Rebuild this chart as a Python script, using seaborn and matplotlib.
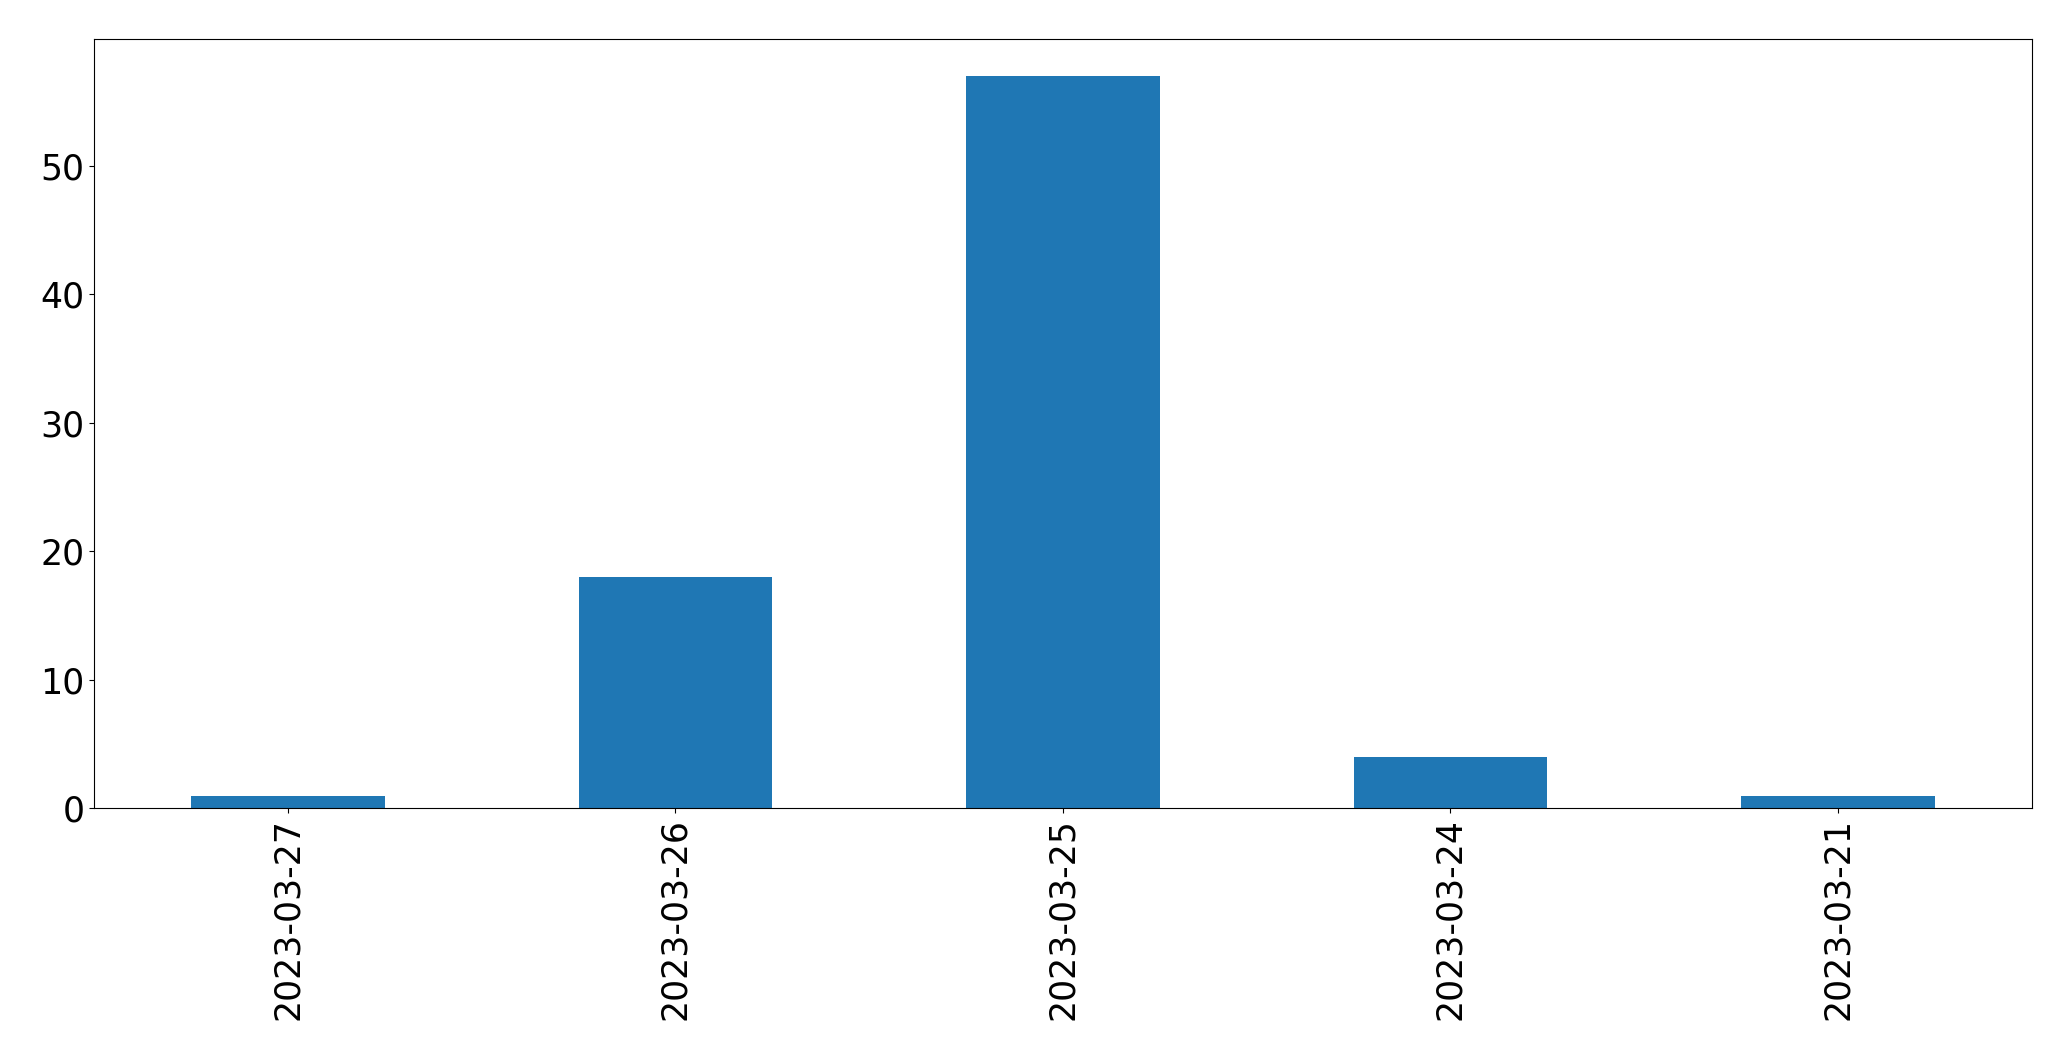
import pandas as pd
import matplotlib
matplotlib.use("Agg")
import matplotlib.pyplot as plt
import seaborn as sns

# counts per day
dates = ["2023-03-27", "2023-03-26", "2023-03-25", "2023-03-24", "2023-03-21"]
counts = [1, 18, 57, 4, 1]

df = pd.DataFrame({"date": dates, "count": counts})

fig, ax = plt.subplots(figsize=(20.71, 10.61), dpi=100)
sns.barplot(data=df, x="date", y="count", color="#1f77b4", saturation=1,
            width=0.5, order=dates, ax=ax)

ax.set_xlabel("")
ax.set_ylabel("")
ax.tick_params(axis="both", labelsize=25)
ax.tick_params(axis="x", labelrotation=90)
ax.set_ylim(0, 59.85)

fig.subplots_adjust(left=0.0455, right=0.981, top=0.963, bottom=0.238)
fig.savefig("out.png", dpi=100)
